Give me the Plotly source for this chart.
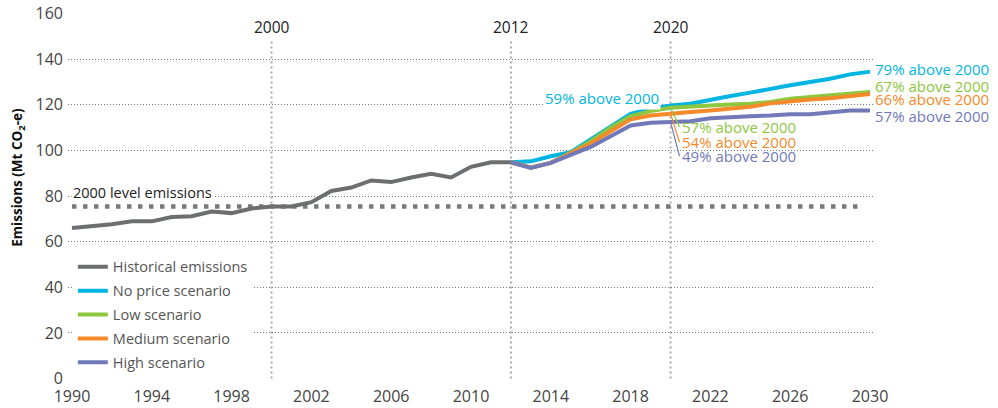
import plotly.graph_objects as go

# historical emissions, Mt CO2-e
hist_years = list(range(1990, 2013))
hist_vals = [66.0, 66.7, 67.6, 68.9, 68.9, 70.8, 71.1, 73.2, 72.5, 74.5, 75.4, 75.4,
             77.3, 82.2, 83.7, 86.8, 86.1, 88.1, 89.7, 88.1, 92.8, 94.8, 94.8]

# scenario projections 2012-2030
proj_years = list(range(2012, 2031))
no_price = [94.8, 95.2, 97.4, 99.2, 104.8, 110.6, 116.0, 118.2, 119.7, 120.4, 122.3,
            123.8, 125.3, 126.7, 128.5, 130.0, 131.4, 133.3, 134.5]
low = [94.8, 92.5, 94.5, 98.9, 104.0, 109.9, 115.0, 117.2, 118.7, 119.4, 119.7,
       120.1, 120.4, 121.2, 122.6, 123.4, 124.1, 124.8, 125.6]
medium = [94.8, 92.4, 94.5, 98.6, 103.0, 108.4, 113.6, 115.3, 116.2, 116.8, 117.5,
          118.2, 119.1, 120.6, 121.6, 122.3, 122.8, 123.8, 124.7]
high = [94.8, 92.3, 94.5, 98.2, 101.5, 106.2, 110.9, 112.1, 112.4, 112.8, 114.1,
        114.7, 115.0, 115.3, 115.8, 115.8, 116.5, 117.5, 117.5]

level_2000 = hist_vals[hist_years.index(2000)]
marker_years = [2000, 2012, 2020]

GRAY = "#6d6e71"
BLUE = "#00b5e2"
GREEN = "#8dc63f"
ORANGE = "#f58a2a"
PURPLE = "#7179b8"
FONT = "Open Sans"

fig = go.Figure()

# 2000 level reference line
fig.add_trace(go.Scatter(x=[1990, 2029.5], y=[level_2000, level_2000], mode="lines",
                         line=dict(color="#7a7a7a", width=4.5, dash="4.5px,6.5px"),
                         showlegend=False, hoverinfo="skip"))

series = [("No price scenario", no_price, BLUE),
          ("Low scenario", low, GREEN),
          ("Medium scenario", medium, ORANGE),
          ("High scenario", high, PURPLE)]
for i, (name, vals, col) in enumerate(series):
    fig.add_trace(go.Scatter(x=proj_years, y=vals, mode="lines", name=name,
                             legendgroup=name, legendrank=i + 2,
                             line=dict(color=col, width=4)))

fig.add_trace(go.Scatter(x=hist_years, y=hist_vals, mode="lines", name="Historical emissions",
                         legendgroup="hist", legendrank=1,
                         line=dict(color=GRAY, width=4)))

for yr in marker_years:
    fig.add_shape(type="line", x0=yr, x1=yr, y0=0, y1=148, xref="x", yref="y",
                  line=dict(color="#aaaaaa", width=2, dash="2px,3px"), layer="below")
    fig.add_annotation(x=yr, y=154, text=str(yr), showarrow=False,
                       font=dict(family=FONT, size=15.5, color="#222222"))

fig.add_annotation(x=1990, y=81.5, xref="x", yref="y", text="2000 level emissions",
                   showarrow=False, xanchor="left", bgcolor="white", xshift=-1,
                   font=dict(family=FONT, size=14.5, color="#222222"))

# end labels
end_labels = [("79% above 2000", 135.5, BLUE), ("67% above 2000", 128.2, GREEN),
              ("66% above 2000", 122.3, ORANGE), ("57% above 2000", 115.0, PURPLE)]
for txt, yv, col in end_labels:
    fig.add_annotation(x=1, xref="paper", y=yv, yref="y", text=txt, showarrow=False,
                       xanchor="left", xshift=-1, font=dict(family=FONT, size=15, color=col))

fig.add_annotation(x=2019.5, y=123.1, text="59% above 2000", showarrow=False,
                   xanchor="right", bgcolor="white",
                   font=dict(family=FONT, size=15, color=BLUE))

i2020 = proj_years.index(2020)
callouts = [("57% above 2000", low[i2020], GREEN, 19),
            ("54% above 2000", medium[i2020], ORANGE, 29),
            ("49% above 2000", high[i2020], PURPLE, 34)]
for txt, yv, col, dy in callouts:
    fig.add_annotation(x=2020, y=yv, text=txt, showarrow=True, arrowhead=0,
                       arrowwidth=1.2, arrowcolor=col, ax=9, ay=dy,
                       xanchor="left", yanchor="middle", standoff=0,
                       font=dict(family=FONT, size=15, color=col))

fig.add_annotation(x=0, xref="paper", xshift=-50, xanchor="center", y=0.55, yref="paper",
                   text="<b>Emissions (Mt CO<sub>2</sub>-e)</b>", textangle=-90,
                   showarrow=False, font=dict(family=FONT, size=13.5, color="#111111"))

fig.update_layout(
    width=998, height=408,
    margin=dict(l=68, r=124, t=13, b=29),
    plot_bgcolor="white", paper_bgcolor="white",
    font=dict(family=FONT, size=16, color="#444444"),
    legend=dict(x=0.006, y=0.35, xanchor="left", yanchor="top", bgcolor="white",
                font=dict(family=FONT, size=14.5, color="#555555"),
                tracegroupgap=2, itemwidth=30, traceorder="grouped"),
    xaxis=dict(range=[1989.8, 2030.2], tickmode="array", automargin=False,
               tickvals=list(range(1990, 2031, 4)), showgrid=False, zeroline=False,
               showline=False, ticks="", ticklabelstandoff=6,
               tickfont=dict(size=16, color="#444444")),
    yaxis=dict(range=[-0.2, 160.2], tickvals=list(range(0, 161, 20)), showgrid=True,
               automargin=False, gridcolor="#777777", gridwidth=1, griddash="1px,2px",
               zeroline=False, showline=False, ticks="", ticklabelstandoff=4,
               tickfont=dict(size=16, color="#444444")),
    showlegend=True,
)

fig.write_html("out.html", config={"displayModeBar": False},
               post_script="document.body.style.margin='0';")
